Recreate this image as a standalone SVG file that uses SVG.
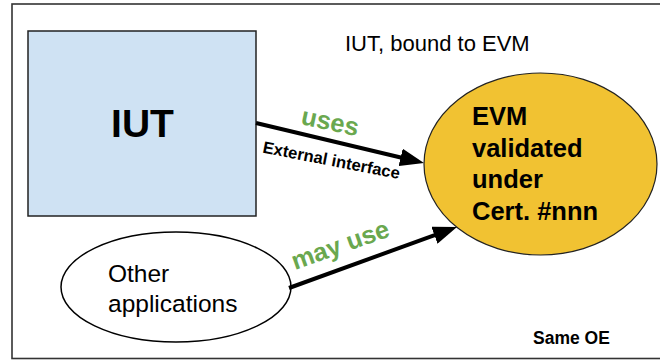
<svg xmlns="http://www.w3.org/2000/svg" width="660" height="360" viewBox="0 0 660 360">
<style>
text{font-family:"Liberation Sans",Arial,sans-serif}
.b{font-weight:bold}
.g{fill:#6aa84f;font-weight:bold;font-size:25.5px}
.conn{stroke:#000;stroke-width:4;fill:none}
</style>
<defs>
<marker id="ah" viewBox="0 0 24 18" refX="12" refY="9" markerWidth="24" markerHeight="18" markerUnits="userSpaceOnUse" orient="auto">
<path d="M0,0 L24,9 L0,18 z" fill="#000"/>
</marker>
</defs>
<rect width="660" height="360" fill="#fff"/>
<g id="frame">
<rect x="12" y="4" width="660" height="354.5" fill="none" stroke="#333" stroke-width="1.6"/>
<text x="345" y="51" font-size="22">IUT, bound to EVM</text>
<text x="533" y="344" font-size="17.5" class="b">Same OE</text>
</g>
<g id="iut">
<rect x="28" y="31" width="228" height="185" fill="#cfe2f3" stroke="#222" stroke-width="1.5"/>
<text x="142.5" y="137" font-size="39" class="b" text-anchor="middle">IUT</text>
</g>
<g id="other">
<ellipse cx="176" cy="287" rx="115" ry="55" fill="#fff" stroke="#000" stroke-width="1.5"/>
<text x="108" y="282" font-size="24.5">Other</text>
<text x="108" y="312" font-size="24.5">applications</text>
</g>
<g id="evm">
<ellipse cx="540.5" cy="164" rx="116.5" ry="91" fill="#f1c232" stroke="#222" stroke-width="1.2"/>
<text x="472" y="125" font-size="25.5" class="b">EVM</text>
<text x="472" y="157" font-size="25.5" class="b">validated</text>
<text x="472" y="188" font-size="25.5" class="b">under</text>
<text x="472" y="220" font-size="25.5" class="b">Cert. #nnn</text>
</g>
<g id="connectors">
<line class="conn" x1="256" y1="123" x2="412.3" y2="160.2" marker-end="url(#ah)"/>
<line class="conn" x1="289" y1="288" x2="445.7" y2="231.1" marker-end="url(#ah)"/>
<text class="g" transform="translate(300,124) rotate(12)">uses</text>
<text class="b" font-size="16.6" transform="translate(262,152.5) rotate(11)">External interface</text>
<text class="g" transform="translate(295,270) rotate(-19.5)">may use</text>
</g>
</svg>
